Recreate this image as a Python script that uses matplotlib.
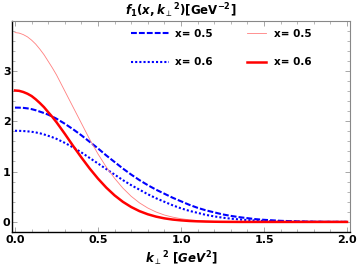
import matplotlib
matplotlib.use("Agg")
import matplotlib.pyplot as plt
from matplotlib.ticker import MultipleLocator, FixedLocator
from matplotlib.lines import Line2D

plt.rcParams['mathtext.fontset'] = 'custom'
plt.rcParams['mathtext.rm'] = 'DejaVu Sans:bold'
plt.rcParams['mathtext.it'] = 'DejaVu Sans:bold:italic'
plt.rcParams['mathtext.bf'] = 'DejaVu Sans:bold'

# k_perp^2 grid (GeV^2)
k2 = [0.000, 0.025, 0.050, 0.075, 0.100, 0.125, 0.150, 0.175, 0.200, 0.225, 0.25,
      0.30, 0.35, 0.40, 0.45, 0.50, 0.55,
      0.60, 0.65, 0.70, 0.75, 0.80, 0.85, 0.90, 0.95, 1.00, 1.05, 1.10, 1.15,
      1.20, 1.25, 1.30, 1.35, 1.40, 1.45, 1.50, 1.60, 1.70, 1.80, 1.90, 2.00]

# model A, x=0.5 (blue dashed)
blue_x05 = [2.27, 2.269, 2.265, 2.255, 2.24, 2.218, 2.19, 2.162, 2.13, 2.092, 2.05,
            1.95, 1.84, 1.72, 1.59, 1.46, 1.32,
            1.19, 1.06, 0.94, 0.83, 0.73, 0.64, 0.56, 0.48, 0.41, 0.34, 0.28, 0.23,
            0.19, 0.15, 0.12, 0.095, 0.075, 0.055, 0.042, 0.022, 0.011, 0.005, 0.002, 0.001]
# model A, x=0.6 (blue dotted)
blue_x06 = [1.81, 1.809, 1.805, 1.799, 1.79, 1.777, 1.76, 1.737, 1.71, 1.682, 1.65,
            1.57, 1.48, 1.38, 1.27, 1.16, 1.05,
            0.94, 0.83, 0.73, 0.64, 0.55, 0.47, 0.40, 0.33, 0.27, 0.22, 0.18, 0.14,
            0.11, 0.085, 0.065, 0.05, 0.037, 0.027, 0.02, 0.01, 0.005, 0.002, 0.001, 0.0]
# model B, x=0.5 (thin red)
red_x05 = [3.76, 3.75, 3.72, 3.675, 3.61, 3.53, 3.43, 3.32, 3.19, 3.06, 2.92,
           2.60, 2.28, 1.96, 1.64, 1.35, 1.09,
           0.866, 0.671, 0.509, 0.378, 0.276, 0.197, 0.137, 0.095, 0.064, 0.042, 0.027, 0.017,
           0.010, 0.006, 0.004, 0.002, 0.001, 0.0, 0.0, 0.0, 0.0, 0.0, 0.0, 0.0]
# model B, x=0.6 (thick red)
red_x06 = [2.61, 2.603, 2.58, 2.546, 2.50, 2.435, 2.36, 2.278, 2.18, 2.085, 1.98,
           1.75, 1.51, 1.28, 1.06, 0.860, 0.681,
           0.527, 0.399, 0.296, 0.214, 0.152, 0.105, 0.071, 0.047, 0.031, 0.019, 0.012, 0.007,
           0.004, 0.002, 0.001, 0.0, 0.0, 0.0, 0.0, 0.0, 0.0, 0.0, 0.0, 0.0]

label_05 = "x= 0.5"
label_06 = "x= 0.6"
xticks = [0.0, 0.5, 1.0, 1.5, 2.0]
xticklabels = ["0.0", "0.5", "1.0", "1.5", "2.0"]
yticks = [0, 1, 2, 3]

fig = plt.figure(figsize=(3.57, 2.77), dpi=100)
ax = fig.add_axes([12/357, 1-232/277, 338/357, 211/277])

l1, = ax.plot(k2, blue_x05, color='blue', lw=1.5, ls=(0, (2.8, 1.0)))
l2, = ax.plot(k2, blue_x06, color='blue', lw=1.5, ls=(0, (1.0, 1.0)))
l3, = ax.plot(k2, red_x05, color='#ff7f7f', lw=0.6)
l4, = ax.plot(k2, red_x06, color='red', lw=1.8)

ax.set_xlim(-0.018, 2.018)
ax.set_ylim(-0.2, 3.99)
ax.xaxis.set_major_locator(FixedLocator(xticks))
ax.set_xticklabels(xticklabels)
ax.xaxis.set_minor_locator(MultipleLocator(0.1))
ax.yaxis.set_major_locator(FixedLocator(yticks))
ax.yaxis.set_minor_locator(MultipleLocator(0.2))
ax.tick_params(which='both', direction='in', top=True, right=True, color='#999999')
ax.tick_params(which='major', length=3.5, width=0.6, labelsize=8, pad=2)
ax.tick_params(which='minor', length=2, width=0.5)
for lab in ax.get_xticklabels() + ax.get_yticklabels():
    lab.set_fontweight('bold')
ax.tick_params(axis='y', pad=1)
for s in ['top', 'right']:
    ax.spines[s].set_color('#888888')
    ax.spines[s].set_linewidth(0.8)
for s in ['left', 'bottom']:
    ax.spines[s].set_color('black')
    ax.spines[s].set_linewidth(1.0)

ax.set_title(r"$f_1(x,k_\perp{}^2)$[GeV$^{-2}$]", fontsize=8.5, fontweight='bold', pad=4)
ax.set_xlabel(r"$k_\perp{}^2$ [$GeV^2$]", fontsize=8.5, fontweight='bold', labelpad=3)

leg1 = ax.legend([l1, l2], [label_05, label_06], loc='center',
                 bbox_to_anchor=(0.473, 0.872), frameon=False, handlelength=3.7,
                 handletextpad=0.6, labelspacing=1.8,
                 prop={'weight': 'bold', 'size': 7.5})
ax.add_artist(leg1)
h3 = Line2D([], [], color='#ff7f7f', lw=0.6)
h4 = Line2D([], [], color='red', lw=1.8)
leg2 = ax.legend([h3, h4], [label_05, label_06], loc='center',
                 bbox_to_anchor=(0.79, 0.872), frameon=False, handlelength=1.9,
                 handletextpad=0.7, labelspacing=1.8,
                 prop={'weight': 'bold', 'size': 7.5})

fig.savefig("out.png", dpi=100)
